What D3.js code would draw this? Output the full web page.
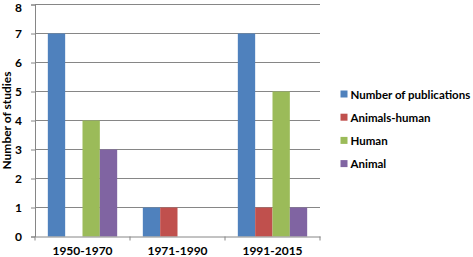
<!DOCTYPE html>
<html>
<head>
<meta charset="utf-8">
<script src="https://cdn.jsdelivr.net/npm/d3@7"></script>
<style>
  body { margin: 0; background: #fff; }
  text { font-family: Lato, "Open Sans", sans-serif; font-weight: 700; fill: #000; }
</style>
</head>
<body>
<div id="chart"></div>
<script>
var periods = ["1950-1970", "1971-1990", "1991-2015"];
var seriesNames = ["Number of publications", "Animals-human", "Human", "Animal"];
var seriesColors = ["#4f81bd", "#c0504d", "#9bbb59", "#8064a2"];
var publications = [7, 1, 7];
var animalsHuman = [0, 1, 1];
var human = [4, 0, 5];
var animal = [3, 0, 1];
var yTicks = [0, 1, 2, 3, 4, 5, 6, 7, 8];

var values = [publications, animalsHuman, human, animal];

var margin = { top: 4.5, right: 153, bottom: 20.5, left: 35 },
  width = 473 - margin.left - margin.right,
  height = 257 - margin.top - margin.bottom;

var svg = d3.select("#chart")
  .append("svg")
  .attr("width", 473)
  .attr("height", 257)
  .append("g")
  .attr("transform", "translate(" + margin.left + "," + margin.top + ")");

var x = d3.scaleBand()
  .domain(periods)
  .range([0, width]);

var x1 = d3.scaleBand()
  .domain(d3.range(seriesNames.length))
  .range([0, x.bandwidth()])
  .paddingOuter(0.74)
  .paddingInner(0);

var y = d3.scaleLinear()
  .domain([0, 8])
  .range([height, 0]);

// gridlines
svg.append("g")
  .selectAll("line")
  .data(yTicks.slice(1))
  .enter()
  .append("line")
  .attr("x1", 0)
  .attr("x2", width)
  .attr("y1", function (d) { return y(d); })
  .attr("y2", function (d) { return y(d); })
  .style("stroke", "#868686")
  .style("stroke-width", 1);

// bars
var groups = svg.append("g")
  .selectAll("g")
  .data(periods)
  .enter()
  .append("g")
  .attr("transform", function (d) { return "translate(" + x(d) + ",0)"; });

groups.selectAll("rect")
  .data(function (d, i) { return values.map(function (s, k) { return { k: k, v: s[i] }; }); })
  .enter()
  .append("rect")
  .attr("x", function (d) { return x1(d.k); })
  .attr("width", x1.bandwidth())
  .attr("y", function (d) { return y(d.v); })
  .attr("height", function (d) { return height - y(d.v); })
  .style("fill", function (d) { return seriesColors[d.k]; });

// Y axis
var yAxis = svg.append("g")
  .call(d3.axisLeft(y).tickValues(yTicks).tickSize(4).tickPadding(9).tickFormat(d3.format("d")));
yAxis.select(".domain").style("stroke", "#868686");
yAxis.selectAll(".tick line").style("stroke", "#868686");
yAxis.selectAll("text").style("font-size", "12px").style("font-family", "Lato, sans-serif").style("font-weight", 700);
// keep the top label inside the picture
yAxis.selectAll(".tick text").filter(function (d) { return d === 8; }).attr("dy", "0.55em");

// X axis
var xAxis = svg.append("g")
  .attr("transform", "translate(0," + height + ")")
  .call(d3.axisBottom(x).tickSize(0).tickPadding(10));
xAxis.select(".domain").style("stroke", "#868686");
xAxis.selectAll("text").style("font-size", "12px").style("font-family", "Lato, sans-serif").style("font-weight", 700);

// x boundary ticks
svg.append("g")
  .selectAll("line")
  .data(periods.concat(["end"]))
  .enter()
  .append("line")
  .attr("x1", function (d, i) { return i < periods.length ? x(d) : width; })
  .attr("x2", function (d, i) { return i < periods.length ? x(d) : width; })
  .attr("y1", height)
  .attr("y2", height + 4)
  .style("stroke", "#868686");

// y title
svg.append("text")
  .attr("transform", "rotate(-90)")
  .attr("x", -height / 2)
  .attr("y", -24)
  .attr("text-anchor", "middle")
  .style("font-size", "12px")
  .text("Number of studies");

// legend
var legend = svg.append("g")
  .attr("transform", "translate(" + (340.5 - margin.left) + "," + (94 - margin.top) + ")");

var items = legend.selectAll("g")
  .data(seriesNames)
  .enter()
  .append("g")
  .attr("transform", function (d, i) { return "translate(0," + (i * 23.2) + ")"; });

items.append("rect")
  .attr("x", 0)
  .attr("y", -3.5)
  .attr("width", 7)
  .attr("height", 7)
  .style("fill", function (d, i) { return seriesColors[i]; });

items.append("text")
  .attr("x", 10)
  .attr("y", 4.5)
  .style("font-size", "11.5px")
  .text(function (d) { return d; });
</script>
</body>
</html>
